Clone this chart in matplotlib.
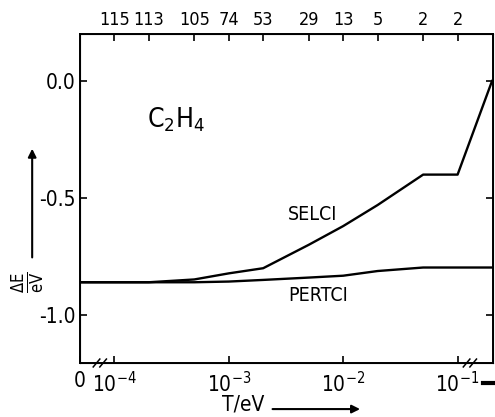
import numpy as np
import matplotlib
matplotlib.use("Agg")
import matplotlib.pyplot as plt

plt.rcParams['font.family'] = ['DejaVu Sans']
plt.rcParams['font.stretch'] = 'condensed'
plt.rcParams['mathtext.fontset'] = 'custom'
plt.rcParams['mathtext.rm'] = 'DejaVu Sans:stretch=condensed'
plt.rcParams['mathtext.it'] = 'DejaVu Sans:stretch=condensed'
plt.rcParams['mathtext.bf'] = 'DejaVu Sans:stretch=condensed'
plt.rcParams['axes.unicode_minus'] = False

# T = 0 is drawn at the left end of the broken log axis
T0 = 10 ** -4.3
T = [T0, 1e-4, 2e-4, 5e-4, 1e-3, 2e-3, 5e-3, 1e-2, 2e-2, 5e-2, 1e-1, 0.2]
selci = [-0.86, -0.86, -0.86, -0.848, -0.822, -0.80, -0.70, -0.62, -0.53, -0.40, -0.40, 0.0]
pertci = [-0.86, -0.86, -0.86, -0.86, -0.857, -0.85, -0.84, -0.832, -0.812, -0.797, -0.797, -0.797]

top_ticks = [1e-4, 2e-4, 5e-4, 1e-3, 2e-3, 5e-3, 1e-2, 2e-2, 5e-2, 1e-1]
top_labels = ['115', '113', '105', '74', '53', '29', '13', '5', '2', '2']
bottom_ticks = [T0, 1e-4, 1e-3, 1e-2, 1e-1]
bottom_labels = ['0', r'$10^{-4}$', r'$10^{-3}$', r'$10^{-2}$', r'$10^{-1}$']
y_ticks = [-1.0, -0.5, 0.0]
y_labels = ['-1.0', '-0.5', '0.0']

fig = plt.figure(figsize=(4.95, 4.17), dpi=100)
ax = fig.add_axes([0.1616, 0.1295, 0.8344, 0.7885])

ax.plot(T, selci, color='k', lw=1.7)
ax.plot(T, pertci, color='k', lw=1.7)

ax.set_xscale('log')
ax.set_xlim(T0, 0.204)
ax.set_ylim(-1.205, 0.2)

ax.set_xticks(bottom_ticks)
ax.set_xticklabels(bottom_labels, fontsize=15)
ax.xaxis.set_minor_locator(matplotlib.ticker.NullLocator())
ax.set_yticks(y_ticks)
ax.set_yticklabels(y_labels, fontsize=15)
ax.tick_params(direction='in', length=5, width=1.2, right=True)
ax.tick_params(axis='x', pad=6)
for s in ax.spines.values():
    s.set_linewidth(1.4)

ax2 = ax.twiny()
ax2.set_xscale('log')
ax2.set_xlim(ax.get_xlim())
ax2.set_xticks(top_ticks)
ax2.set_xticklabels(top_labels, fontsize=13)
ax2.xaxis.set_minor_locator(matplotlib.ticker.NullLocator())
ax2.tick_params(direction='in', length=5, width=1.2, pad=4)

# axis break marks
for xb in [0.048, 0.944]:
    ax.plot([xb - 0.006, xb + 0.006], [0.0, 0.0], color='white', lw=3,
            transform=ax.transAxes, clip_on=False)
    for dx in [-0.008, 0.008]:
        ax.plot([xb + dx - 0.008, xb + dx + 0.008], [-0.012, 0.012], color='k', lw=1.1,
                transform=ax.transAxes, clip_on=False)

ax.text(0.162, 0.717, r'$\mathrm{C_2H_4}$', transform=ax.transAxes, fontsize=19)
ax.text(5.4e-3, -0.57, 'SELCI', fontsize=14, ha='center', va='center')
ax.text(6.1e-3, -0.915, 'PERTCI', fontsize=14, ha='center', va='center')

fig.text(0.058, 0.323, r'$\frac{\Delta E}{eV}$', rotation=90, fontsize=17,
         ha='center', va='center')
fig.patches.append(matplotlib.patches.FancyArrowPatch(
    (0.065, 0.376), (0.065, 0.650), transform=fig.transFigure,
    arrowstyle='-|>', mutation_scale=12, lw=1.5, color='k'))

fig.text(0.491, 0.029, 'T/eV', fontsize=15, ha='center', va='center')
fig.patches.append(matplotlib.patches.FancyArrowPatch(
    (0.545, 0.019), (0.733, 0.019), transform=fig.transFigure,
    arrowstyle='-|>', mutation_scale=12, lw=1.5, color='k'))
fig.lines.append(matplotlib.lines.Line2D([0.976, 0.996], [0.0815, 0.0815],
                                         transform=fig.transFigure, color='k', lw=3))

fig.savefig('out.png', dpi=100)
